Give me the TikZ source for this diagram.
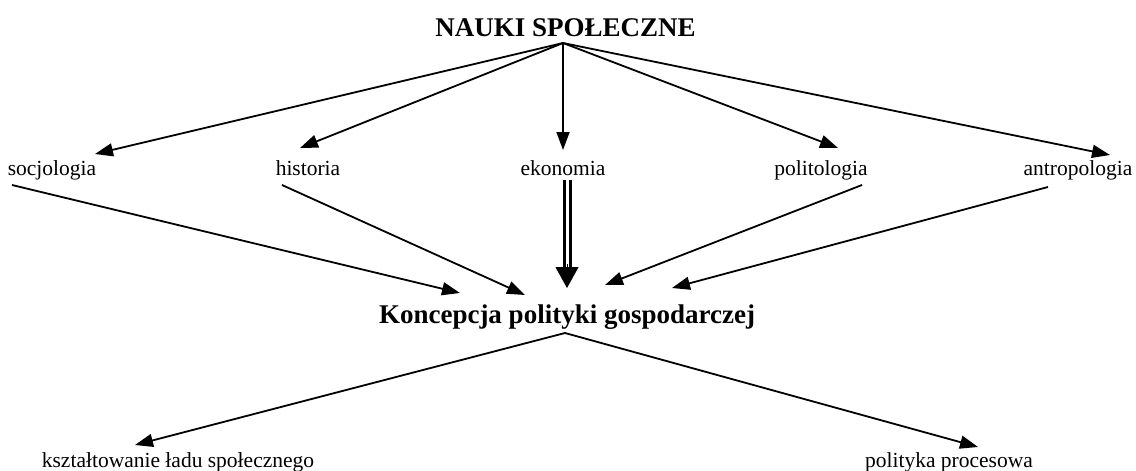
\documentclass[tikz,border=0pt]{standalone}
\usepackage{fontspec}
\setmainfont{Liberation Serif}
\usetikzlibrary{arrows.meta,calc}
\begin{document}
\begin{tikzpicture}[x=1pt,y=-1pt,
  lbl/.style={font=\fontsize{21.5}{24}\selectfont, inner sep=0pt, anchor=base},
  headline/.style={font=\bfseries\fontsize{27}{30}\selectfont, inner sep=0pt, anchor=base},
  arr/.style={line width=1.8pt, -{Triangle[length=18pt,width=13pt]}},
  ]
\useasboundingbox (0,0) rectangle (1136,471);

% titles
\node[headline] (nauki) at (565.5,36) {NAUKI SPOŁECZNE};
\node[headline] (konc) at (567,323) {Koncepcja polityki gospodarczej};

% disciplines
\node[lbl] (soc) at (52,175) {socjologia};
\node[lbl] (hist) at (308,175) {historia};
\node[lbl] (eko) at (563,175) {ekonomia};
\node[lbl] (pol) at (821,175) {politologia};
\node[lbl] (ant) at (1078,175) {antropologia};

% outcomes
\node[lbl] (ksz) at (178,467) {kształtowanie ładu społecznego};
\node[lbl] (proc) at (949,467) {polityka procesowa};

% connector end points
\coordinate (apex) at (563,43);
\coordinate (socIn) at (95,154);
\coordinate (histIn) at (300,148);
\coordinate (ekoIn) at (563,150);
\coordinate (polIn) at (838,148);
\coordinate (antIn) at (1110,155);

\coordinate (socOut) at (12,185);
\coordinate (histOut) at (282,185);
\coordinate (ekoOut) at (567,180);
\coordinate (polOut) at (862,185);
\coordinate (antOut) at (1048,187);

\coordinate (kSoc) at (460,293);
\coordinate (kHist) at (525,295);
\coordinate (kEko) at (567,288);
\coordinate (kPol) at (605,285);
\coordinate (kAnt) at (672,288);

\coordinate (kBase) at (565,333);
\coordinate (kszIn) at (135,445);
\coordinate (procIn) at (978,447);

% fan out from the top heading
\foreach \t in {socIn,histIn,ekoIn,polIn,antIn}
  \draw[arr] (apex) -- (\t);

% into the central concept
\draw[arr] (socOut) -- (kSoc);
\draw[arr] (histOut) -- (kHist);
\draw[arr] (polOut) -- (kPol);
\draw[arr] (antOut) -- (kAnt);

% economics: the main contribution, a heavy double line
\draw[line width=3pt, double distance=3pt, shorten >=18pt] (ekoOut) -- (kEko);
\draw[line width=1pt, -{Triangle[length=21pt,width=23pt]}] ($(kEko)+(0,-24)$) -- (kEko);

% fan out to the outcomes
\draw[arr] (kBase) -- (kszIn);
\draw[arr] (kBase) -- (procIn);
\end{tikzpicture}
\end{document}
